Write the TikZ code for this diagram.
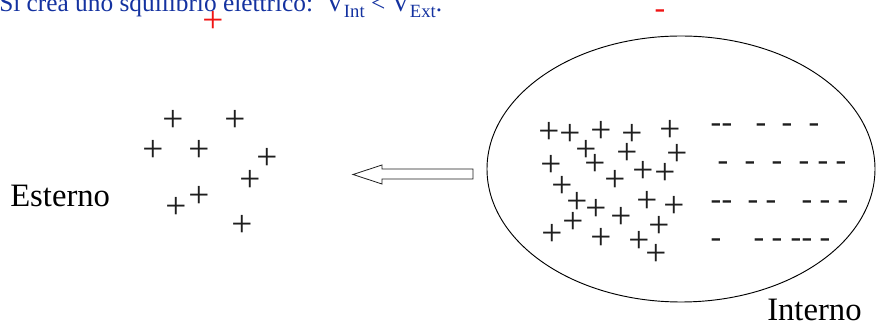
\documentclass[tikz,border=0pt]{standalone}
\usepackage{fontspec}
\setmainfont{Liberation Serif}
\usetikzlibrary{shapes.geometric}
\definecolor{topblue}{RGB}{20,50,160}
\definecolor{chgred}{RGB}{240,20,20}
\definecolor{ink}{RGB}{30,30,30}
\newcommand{\lowsub}[1]{\raisebox{-0.22em}{\fontsize{14}{16}\selectfont #1}}
\begin{document}
\begin{tikzpicture}[x=0.75pt,y=-0.75pt,
  pl/.style={inner sep=0pt, text=ink, font=\fontsize{28}{32}\selectfont},
  mn/.style={inner sep=0pt, anchor=base, yshift=-5.4pt, text=ink, font=\fontsize{24}{28}\selectfont},
  lbl/.style={inner sep=0pt, anchor=base west, font=\fontsize{24.5}{28}\selectfont},
  cell/.style={draw=black, line width=0.7pt, ellipse, inner sep=0pt, minimum width=291pt, minimum height=199.5pt},
  flow/.style={draw=ink, line width=0.6pt, fill=white, line join=miter}]
\useasboundingbox (0,0) rectangle (876,324);
% top caption (cut by the page edge)
\node[inner sep=0pt, anchor=base west, text=topblue, font=\fontsize{19}{22}\selectfont] (cap) at (-1,12) {Si crea uno squilibrio elettrico:\ \ V\lowsub{Int} < V\lowsub{Ext}.};
\node[pl, text=chgred] (rp) at (213,22) {+};
\node[mn, text=chgred] (rm) at (660,11) {-};
% cell
\node[cell] (cellint) at (681,169) {};
% external charges
\foreach \i/\x/\y in {1/173/121,2/235/121,3/153/151,4/199/151,5/267/159,6/250/181,7/199/197,8/176/208,9/242/226}
  \node[pl] (e\i) at (\x,\y) {+};
% internal positive charges
\foreach \i/\x/\y in {1/549/133,2/570/135,3/601/132,4/632/135,5/670/131,6/586/151,7/627/154,8/677/155,9/551/166,10/595/165,11/643/172,12/665/174,13/615/181,14/562/187,15/577/203,16/647/202,17/674/207,18/596/210,19/621/218,20/573/223,21/659/227,22/552/235,23/601/239,24/639/242,25/656/255}
  \node[pl] (i\i) at (\x,\y) {+};
% internal negative charges
\foreach \i/\x/\y in {1/716/125,2/727/125,3/761/125,4/787/125,5/814/125,
  6/723/163,7/750/163,8/777/163,9/804/163,10/823/163,11/841/163,
  12/716/202,13/727/202,14/753/202,15/771/202,16/807/202,17/825/202,18/843/202,
  19/716/240,20/759/240,21/777/240,22/796/240,23/807/240,24/825/240}
  \node[mn] (n\i) at (\x,\y) {-};
% hollow arrow
\coordinate (at) at (353,174.5);
\draw[flow] (473,169) -- (382,169) -- (382,165) -- (at) -- (382,184) -- (382,179) -- (473,179) -- cycle;
% labels
\node[lbl] (est) at (10,207) {Esterno};
\node[lbl] (intl) at (767,321) {Interno};
\end{tikzpicture}
\end{document}
